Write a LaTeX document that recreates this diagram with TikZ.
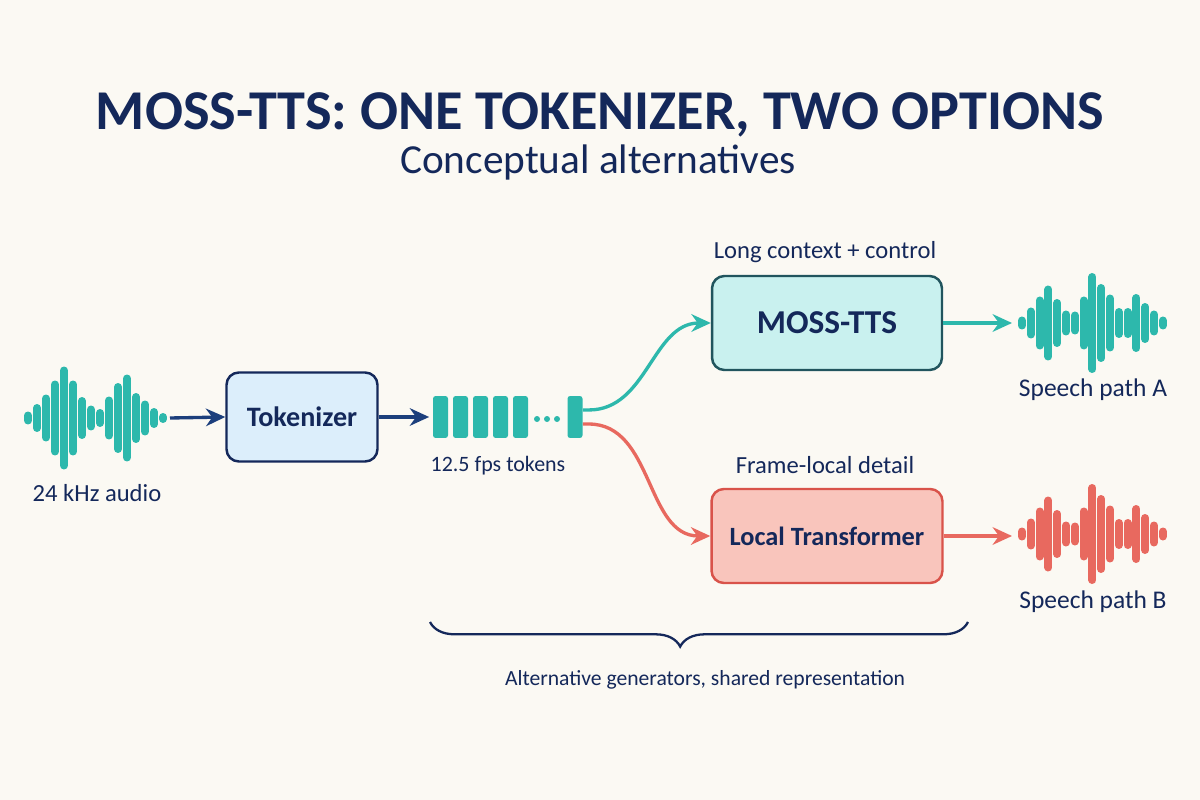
\documentclass[tikz,border=0pt]{standalone}
\usepackage{fontspec}
\setmainfont{Carlito}
\usetikzlibrary{arrows.meta,positioning,decorations.pathreplacing}
\definecolor{bgcol}{HTML}{FBF9F3}
\definecolor{navy}{HTML}{14285A}
\definecolor{arrnavy}{HTML}{1C3F7C}
\definecolor{tealc}{HTML}{2DB8AC}
\definecolor{tealfill}{HTML}{C9F1EF}
\definecolor{tealdraw}{HTML}{21555E}
\definecolor{tokfill}{HTML}{DCEEFB}
\definecolor{redc}{HTML}{E8695F}
\definecolor{redfill}{HTML}{F9C5BC}
\definecolor{reddraw}{HTML}{D9534A}

\begin{document}
\begin{tikzpicture}[x=0.02cm, y=-0.02cm, >={Stealth[length=11pt,width=10pt]},
    box/.style={rounded corners=7pt, line width=1.4pt, minimum width=3.02cm, minimum height=1.78cm, text=navy, font=\fontsize{16}{19}\selectfont\bfseries},
    label/.style={text=navy, font=\fontsize{14}{17}\selectfont},
    token/.style={fill=tealc, rounded corners=1.5pt, minimum width=0.3cm, minimum height=0.84cm, inner sep=0pt},
    bar/.style={line width=0.16cm, line cap=round},
    flow/.style={->, line width=1.9pt}]
  \fill[bgcol] (0,0) rectangle (1200,800);

  % title
  \node[text=navy, font=\fontsize{32}{38}\selectfont\bfseries] (title) at (600,115) {MOSS-TTS: ONE TOKENIZER, TWO OPTIONS};
  \node[text=navy, font=\fontsize{23.5}{28}\selectfont] (subtitle) at (598,162) {Conceptual alternatives};

  % input audio
  \foreach \h [count=\i] in {13,28,47,75,103,75,42,25,18,43,70,87,50,35,20,10}
    \draw[bar, tealc] ({19+9*\i},{418-(\h-8)/2}) -- ({19+9*\i},{418+(\h-8)/2});
  \coordinate (win) at (170,418);
  \node[label] (audio) at (97,493) {24 kHz audio};

  \node[box, fill=tokfill, draw=navy] (tok) at (302,417) {Tokenizer};
  \draw[flow, arrnavy] (win) -- (tok.west);

  % tokens
  \foreach \x [count=\i] in {440.5,460.5,480.5,500.5,520.5}
    \node[token] (t\i) at (\x,417) {};
  \foreach \x in {537,547,557}
    \fill[tealc] (\x,419) circle (3);
  \node[token] (tl) at (575,417) {};
  \draw[flow, arrnavy, shorten >=2pt] (tok.east) -- (t1.west);
  \node[label, font=\fontsize{12.5}{15}\selectfont] (fps) at (498,466) {12.5 fps tokens};

  % two generators
  \node[box, fill=tealfill, draw=tealdraw, minimum width=4.6cm, minimum height=1.88cm, font=\fontsize{19}{22}\selectfont\bfseries] (moss) at (827,323) {MOSS-TTS};
  \node[label] (ctx) at (825,252) {Long context + control};
  \node[box, fill=redfill, draw=reddraw, minimum width=4.62cm, minimum height=1.88cm, font=\fontsize{15}{18}\selectfont\bfseries] (local) at (827,536) {Local Transformer};
  \node[label] (frame) at (825,465) {Frame-local detail};

  \draw[flow, tealc] ([yshift=4pt]tl.east) -- ++(6,0) to[out=0, in=180] (moss.west);
  \draw[flow, redc] ([yshift=-4pt]tl.east) -- ++(6,0) to[out=0, in=180] (local.west);

  % outputs
  \coordinate (outa) at (1012,323);
  \coordinate (outb) at (1012,536);
  \draw[flow, tealc] (moss.east) -- (outa);
  \draw[flow, redc] (local.east) -- (outb);
  \foreach \h [count=\i] in {13,31,53,75,48,25,23,53,100,78,57,30,30,58,40,25,13} {
    \draw[bar, tealc] ({1013.2+8.8*\i},{323-(\h-8)/2}) -- ({1013.2+8.8*\i},{323+(\h-8)/2});
    \draw[bar, redc] ({1013.2+8.8*\i},{534-(\h-8)/2}) -- ({1013.2+8.8*\i},{534+(\h-8)/2});
  }
  \node[label, font=\fontsize{14.5}{17}\selectfont] (patha) at (1093,390) {Speech path A};
  \node[label, font=\fontsize{14.5}{17}\selectfont] (pathb) at (1093,602) {Speech path B};

  % shared brace
  \draw[navy, line width=1.3pt, decorate, decoration={brace, mirror, amplitude=14pt, aspect=0.465}] (430,622) -- (968,622);
  \node[label, font=\fontsize{12.3}{15}\selectfont] (shared) at (705,680) {Alternative generators, shared representation};
\end{tikzpicture}
\end{document}
